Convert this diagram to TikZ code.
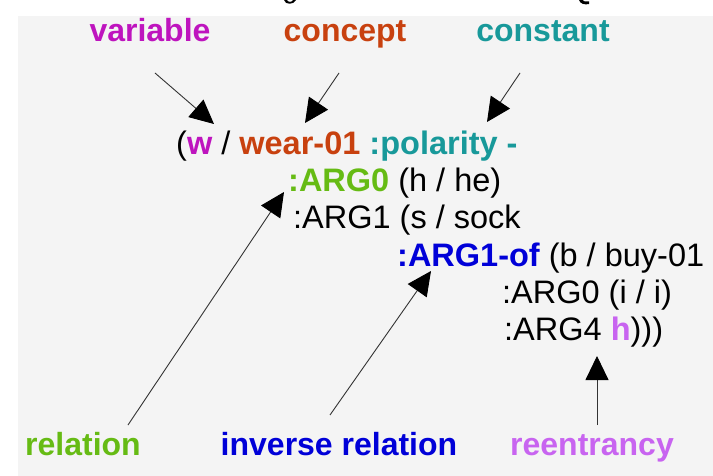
\documentclass[tikz,border=0pt]{standalone}
\usepackage{fontspec}
\setmainfont{Liberation Sans}
\usetikzlibrary{arrows.meta}
\definecolor{bgpanel}{HTML}{F4F4F4}
\definecolor{cvar}{HTML}{BE14BE}
\definecolor{cconc}{HTML}{C8410F}
\definecolor{cconst}{HTML}{18999A}
\definecolor{crel}{HTML}{66BB14}
\definecolor{cinv}{HTML}{0000D8}
\definecolor{creent}{HTML}{C864F0}
\definecolor{cline}{HTML}{333333}
\tikzset{
  amr/.style={inner sep=0pt, anchor=base west, font=\fontsize{32.5}{36}\selectfont},
  lab/.style={inner sep=0pt, anchor=base, font=\fontsize{32}{36}\selectfont\bfseries},
  pointer/.style={draw=cline, line width=0.9pt, -{Triangle[length=24pt,width=23pt,color=black]}},
}
\begin{document}
\begin{tikzpicture}[x=1pt,y=-1pt]
\useasboundingbox (0,0) rectangle (713,476);
\fill[white] (0,0) rectangle (713,476);
\fill[bgpanel] (18,16) rectangle (713,476);
% cut-off descenders from the title above
\fill[black] (284,0) .. controls (285,5) and (294,5) .. (296,0) -- (293,0) .. controls (292,2.5) and (288,2.5) .. (287,0) -- cycle;
\fill[black] (579,0) .. controls (580,4) and (585,5) .. (589,4) -- (589,1.5) .. controls (586,2) and (583,1.5) .. (582.5,0) -- cycle;

% labels
\node[lab, text=cvar]   (variable) at (150,42) {variable};
\node[lab, text=cconc]  (concept)  at (345,42) {concept};
\node[lab, text=cconst] (constant) at (543,42) {constant};
\node[lab, text=crel]   (relation) at (83,455) {relation};
\node[lab, text=cinv]   (inverse)  at (339,455) {inverse relation};
\node[lab, text=creent] (reent)    at (592,455) {reentrancy};

% AMR text
\node[amr] (l1) at (176,155) {(\textcolor{cvar}{\bfseries w} / \textcolor{cconc}{\bfseries wear-01} \textcolor{cconst}{\bfseries :polarity -}};
\node[amr] (l2) at (288,192) {\textcolor{crel}{\bfseries :ARG0} (h / he)};
\node[amr] (l3) at (293,229) {:ARG1 (s / sock};
\node[amr] (l4) at (397,266) {\textcolor{cinv}{\bfseries :ARG1-of} (b / buy-01};
\node[amr] (l5) at (502,303) {:ARG0 (i / i)};
\node[amr] (l6) at (504,340) {:ARG4 \textcolor{creent}{\bfseries h})))};

% arrow end points
\coordinate (vT) at (155,73);  \coordinate (vH) at (214,124);
\coordinate (cT) at (339,73);  \coordinate (cH) at (305,123);
\coordinate (kT) at (520,73);  \coordinate (kH) at (487,122);
\coordinate (rT) at (128,425); \coordinate (rH) at (284,192);
\coordinate (iT) at (330,415); \coordinate (iH) at (431,271);
\coordinate (eT) at (597,425); \coordinate (eH) at (597,356);

\draw[pointer] (vT) -- (vH);
\draw[pointer] (cT) -- (cH);
\draw[pointer] (kT) -- (kH);
\draw[pointer] (rT) -- (rH);
\draw[pointer] (iT) -- (iH);
\draw[pointer] (eT) -- (eH);
\end{tikzpicture}
\end{document}
